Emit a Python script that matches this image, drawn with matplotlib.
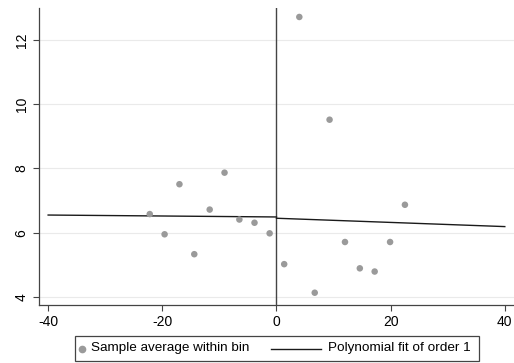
import matplotlib
matplotlib.use("Agg")
import matplotlib.pyplot as plt
from matplotlib.lines import Line2D
from matplotlib.patches import Rectangle

plt.rcParams['font.family'] = ['Liberation Sans', 'DejaVu Sans']

bin_x = [-22.2, -19.6, -17.0, -14.4, -11.7, -9.1, -6.5, -3.85, -1.2,
         1.35, 4.0, 6.7, 9.3, 12.0, 14.6, 17.2, 19.9, 22.5]
bin_y = [6.58, 5.95, 7.51, 5.33, 6.72, 7.87, 6.41, 6.31, 5.98,
         5.02, 12.72, 4.13, 9.52, 5.71, 4.89, 4.79, 5.71, 6.87]
left_fit_x = [-40, 0]
left_fit_y = [6.55, 6.49]
right_fit_x = [0, 40]
right_fit_y = [6.45, 6.19]
xticks = [-40, -20, 0, 20, 40]
yticks = [4, 6, 8, 10, 12]
legend_labels = ['Sample average within bin', 'Polynomial fit of order 1']

W, H = 514, 363
fig = plt.figure(figsize=(W / 100, H / 100), dpi=100)
ax = fig.add_axes([0.0759, 0.16, 0.924, 0.818])
ax.set_xlim(-41.6, 41.6)
ax.set_ylim(3.75, 13.0)

for y in yticks:
    ax.axhline(y, color='#eaeaea', lw=0.8, zorder=0)

ax.axvline(0, color='#444444', lw=1.0, zorder=1)
ax.scatter(bin_x, bin_y, s=22, color='#9a9a9a', edgecolors='none', zorder=3)
ax.plot(left_fit_x, left_fit_y, color='#1a1a1a', lw=1.0, zorder=2)
ax.plot(right_fit_x, right_fit_y, color='#1a1a1a', lw=1.0, zorder=2)

ax.set_xticks(xticks)
ax.set_xticklabels([str(t) for t in xticks])
ax.set_yticks(yticks)
ax.set_yticklabels([str(t) for t in yticks], rotation=90, va='center')
ax.tick_params(axis='both', labelsize=10, length=4, color='#444444', direction='out')
for s in ['top', 'right']:
    ax.spines[s].set_visible(False)
for s in ['left', 'bottom']:
    ax.spines[s].set_color('#444444')
    ax.spines[s].set_linewidth(0.9)

# legend drawn in figure pixel coordinates (converted to fractions)
def fx(px):
    return px / W

def fy(py):
    return 1 - py / H

frame = Rectangle((fx(75), fy(361)), fx(479) - fx(75), fy(336) - fy(361),
                  transform=fig.transFigure, facecolor='white', edgecolor='#444444',
                  lw=0.9)
fig.patches.append(frame)
yc = fy(348.5)
fig.lines.append(Line2D([fx(82)], [yc], marker='o', ls='none', color='#9a9a9a',
                        markersize=4.5, transform=fig.transFigure))
fig.text(fx(91), yc, legend_labels[0], fontsize=9.7, va='center', ha='left')
fig.lines.append(Line2D([fx(271), fx(321)], [yc, yc], color='#1a1a1a', lw=1.0,
                        transform=fig.transFigure))
fig.text(fx(328), yc, legend_labels[1], fontsize=9.7, va='center', ha='left')

fig.savefig('out.png', dpi=100)
